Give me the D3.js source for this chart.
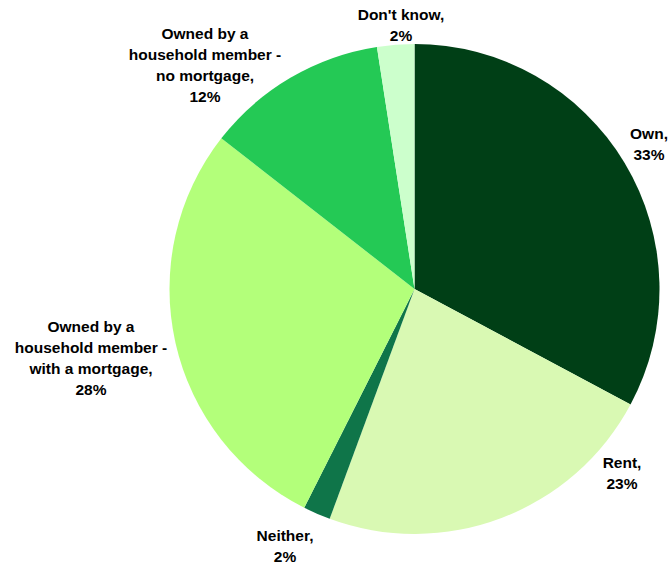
<!DOCTYPE html>
<html>
<head>
<meta charset="utf-8">
<script src="https://cdn.jsdelivr.net/npm/d3@7"></script>
<style>
  html, body { margin: 0; padding: 0; background: #ffffff; }
  svg { display: block; }
  .lbl { font-family: "Liberation Sans", Arial, sans-serif; font-weight: bold; font-size: 15.5px; fill: #000; }
</style>
</head>
<body>
<svg id="chart" width="670" height="566"></svg>
<script>
// Housing tenure shares (percent), clockwise from 12 o'clock
const categories = [
  "Own",
  "Rent",
  "Neither",
  "Owned by a household member - with a mortgage",
  "Owned by a household member - no mortgage",
  "Don't know"
];
const shares = [32.8, 22.8, 1.8, 28.1, 12.0, 2.45];

// Label text, split into lines as displayed
const labelLines = [
  ["Own,"],
  ["Rent,"],
  ["Neither,"],
  ["Owned by a", "household member -", "with a mortgage,"],
  ["Owned by a", "household member -", "no mortgage,"],
  ["Don't know,"]
];

const colors = ["#003f16", "#d9f9b3", "#0f7549", "#b3ff7a", "#24c955", "#ccffcc"];

// Label anchor (centre x, first baseline y) relative to the pie centre
const labelAnchor = [
  [234.5, -150.5],
  [207.5, 178.5],
  [-129.5, 251.5],
  [-323.5, 42.5],
  [-209.5, -250.5],
  [-13.5, -269.5]
];

const width = 670, height = 566;
const cx = 414.5, cy = 289, radius = 245;
const lineHeight = 21;

const svg = d3.select("#chart");
const g = svg.append("g").attr("transform", `translate(${cx},${cy})`);

const data = categories.map((c, i) => ({ name: c, value: shares[i], i }));

const pie = d3.pie()
  .value(d => d.value)
  .sort(null)
  .startAngle(0)
  .endAngle(2 * Math.PI);

const arc = d3.arc().innerRadius(0).outerRadius(radius);

g.selectAll("path.slice")
  .data(pie(data))
  .join("path")
  .attr("class", "slice")
  .attr("d", arc)
  .attr("fill", d => colors[d.data.i]);

const labels = g.selectAll("text.lbl")
  .data(data)
  .join("text")
  .attr("class", "lbl")
  .attr("text-anchor", "middle")
  .attr("transform", d => `translate(${labelAnchor[d.i][0]},${labelAnchor[d.i][1]})`);

labels.each(function(d) {
  const lines = labelLines[d.i].concat([d3.format(".0f")(d.value) + "%"]);
  d3.select(this).selectAll("tspan")
    .data(lines)
    .join("tspan")
    .attr("x", 0)
    .attr("y", (t, k) => k * lineHeight)
    .text(t => t);
});
</script>
</body>
</html>
